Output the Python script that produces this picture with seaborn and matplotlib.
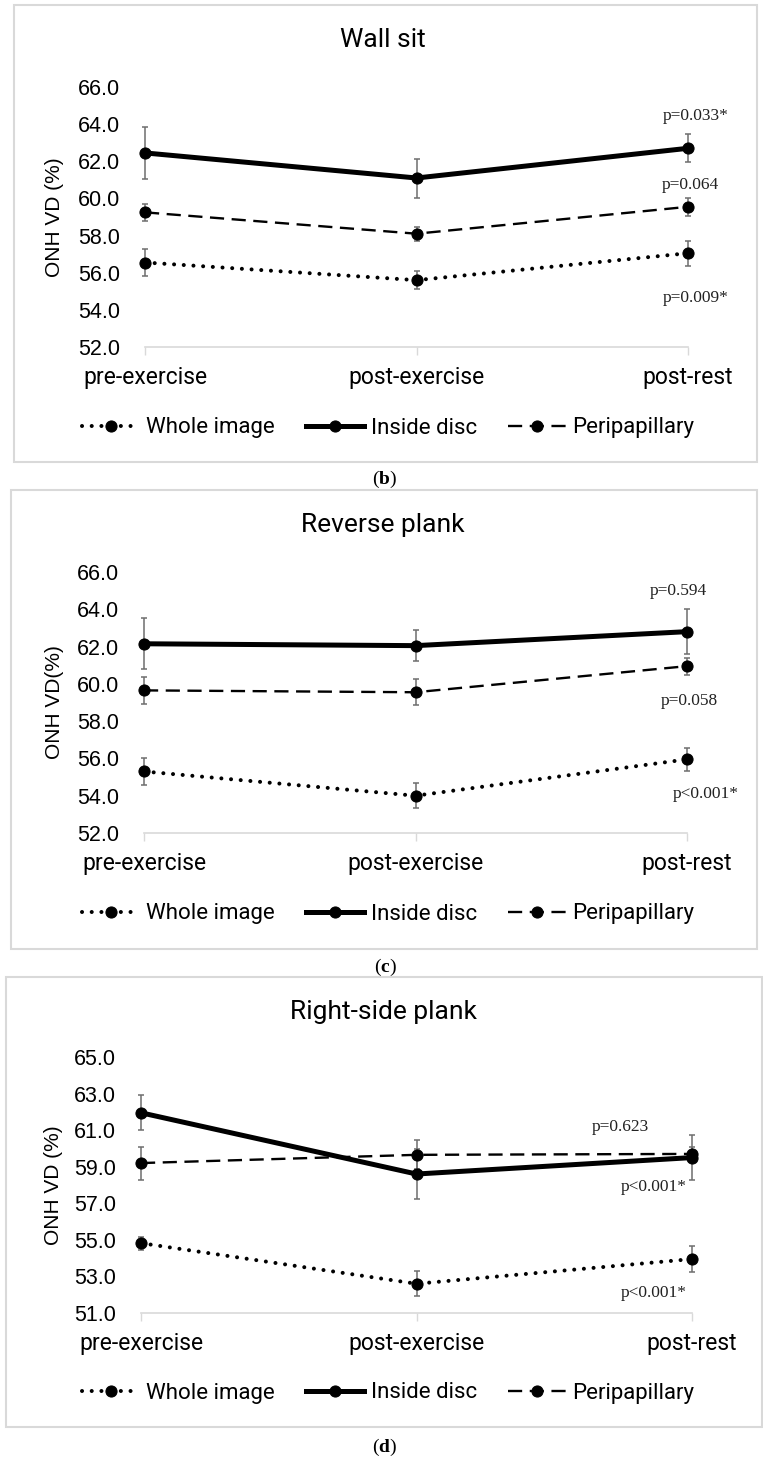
import pandas as pd
import matplotlib
matplotlib.use("Agg")
import matplotlib.pyplot as plt
import seaborn as sns
from matplotlib.patches import Rectangle

phases = ["pre-exercise", "post-exercise", "post-rest"]
series = ["Whole image", "Inside disc", "Peripapillary"]

# Wall sit
wall_whole = [56.55, 55.6, 57.05]
wall_whole_err = [0.75, 0.5, 0.68]
wall_disc = [62.45, 61.1, 62.7]
wall_disc_err = [1.4, 1.05, 0.75]
wall_peri = [59.25, 58.1, 59.55]
wall_peri_err = [0.45, 0.37, 0.5]
wall_p = ["p=0.033*", "p=0.064", "p=0.009*"]

# Reverse plank
rev_whole = [55.3, 54.0, 55.95]
rev_whole_err = [0.72, 0.68, 0.6]
rev_disc = [62.15, 62.05, 62.8]
rev_disc_err = [1.36, 0.85, 1.22]
rev_peri = [59.65, 59.55, 60.95]
rev_peri_err = [0.72, 0.7, 0.45]
rev_p = ["p=0.594", "p=0.058", "p<0.001*"]

# Right-side plank
side_whole = [54.82, 52.6, 53.95]
side_whole_err = [0.35, 0.68, 0.7]
side_disc = [61.95, 58.6, 59.5]
side_disc_err = [0.95, 1.37, 1.23]
side_peri = [59.2, 59.65, 59.7]
side_peri_err = [0.9, 0.8, 0.4]
side_p = ["p=0.623", "p<0.001*", "p<0.001*"]

W, H = 763, 1458
sans = "Roboto"

plt.rcParams["mathtext.fontset"] = "custom"
plt.rcParams["mathtext.rm"] = "Liberation Serif"
plt.rcParams["mathtext.bf"] = "Liberation Serif:bold"

fig = plt.figure(figsize=(W / 100, H / 100), dpi=100)

styles = {
    "Whole image": dict(linestyle=(0, (0.01, 2.4)), lw=2.9, dash_capstyle="round"),
    "Inside disc": dict(linestyle="-", lw=3.6),
    "Peripapillary": dict(linestyle=(0, (6.0, 3.2)), lw=1.7),
}

panels = [
    dict(title="Wall sit", ylabel="ONH VD (%)", cap="b",
         vals=[wall_whole, wall_disc, wall_peri],
         errs=[wall_whole_err, wall_disc_err, wall_peri_err],
         ylim=(52, 66), ptxt=wall_p,
         pxy=[(2.03, 64.45), (2.01, 60.7), (2.03, 54.65)],
         box=(14, 5, 757, 462), ax=(145, 688, 87, 347), title_y=40,
         leg_y=428, cap_y=479),
    dict(title="Reverse plank", ylabel="ONH VD(%)", cap="c",
         vals=[rev_whole, rev_disc, rev_peri],
         errs=[rev_whole_err, rev_disc_err, rev_peri_err],
         ylim=(52, 66), ptxt=rev_p,
         pxy=[(1.97, 65.0), (2.01, 59.1), (2.07, 54.1)],
         box=(11, 490, 757, 949), ax=(144, 687, 572, 833), title_y=525,
         leg_y=914, cap_y=967),
    dict(title="Right-side plank", ylabel="ONH VD (%)", cap="d",
         vals=[side_whole, side_disc, side_peri],
         errs=[side_whole_err, side_disc_err, side_peri_err],
         ylim=(51, 65), ptxt=side_p,
         pxy=[(1.74, 61.15), (1.86, 57.9), (1.86, 52.1)],
         box=(6, 977, 762, 1427), ax=(141, 692, 1057, 1313), title_y=1012,
         leg_y=1393, cap_y=1447),
]

for p in panels:
    x0, y0, x1, y1 = p["box"]
    fig.patches.append(Rectangle((x0 / W, 1 - y1 / H), (x1 - x0) / W, (y1 - y0) / H,
                                 transform=fig.transFigure, fill=False,
                                 edgecolor="#D9D9D9", lw=1.5))
    l, r, t, b = p["ax"]
    ax = fig.add_axes([l / W, 1 - b / H, (r - l) / W, (b - t) / H])

    rows = []
    for name, v, e in zip(series, p["vals"], p["errs"]):
        for i, ph in enumerate(phases):
            rows.append(dict(series=name, pos=i, phase=ph, value=v[i], err=e[i]))
    df = pd.DataFrame(rows)

    handles = []
    for name in series:
        d = df[df["series"] == name]
        ax.errorbar(d["pos"], d["value"], yerr=d["err"], fmt="none", ecolor="#6E6E6E",
                    elinewidth=1.1, capsize=2.5, capthick=1.1, clip_on=False, zorder=2)
        sns.lineplot(data=d, x="pos", y="value", ax=ax, color="black", marker="o",
                     markersize=8, markeredgecolor="black", errorbar=None,
                     clip_on=False, zorder=3, **styles[name])
        handles.append(ax.lines[-1])

    for txt, (px, py) in zip(p["ptxt"], p["pxy"]):
        ax.text(px, py, txt, ha="center", va="center", family="Liberation Serif",
                fontsize=12.5, color="#222222")

    ax.set_xlim(0, 2)
    ax.set_ylim(*p["ylim"])
    ticks = list(range(p["ylim"][0], p["ylim"][1] + 1, 2))
    ax.set_yticks(ticks)
    ax.set_yticklabels([f"{t:.1f}" for t in ticks], fontsize=15.5, family="Liberation Sans")
    ax.set_xticks(range(3))
    ax.set_xticklabels(phases, fontsize=16.5, family=sans)
    ax.tick_params(axis="y", length=0, pad=18)
    ax.tick_params(axis="x", length=6, width=1, color="#D9D9D9", pad=8)
    for s in ["left", "top", "right"]:
        ax.spines[s].set_visible(False)
    ax.spines["bottom"].set_color("#D9D9D9")
    ax.spines["bottom"].set_linewidth(1.2)
    ax.set_xlabel("")
    ax.set_ylabel(p["ylabel"], fontsize=15, family="Liberation Sans")
    ax.yaxis.label.set_verticalalignment("center")
    ax.yaxis.set_label_coords((54 - l) / (r - l), 0.5)
    ax.patch.set_visible(False)

    fig.text(383 / W, 1 - p["title_y"] / H, p["title"], ha="center", va="center",
             fontsize=19, family=sans)
    fig.legend(handles, series, loc="center", bbox_to_anchor=(388 / W, 1 - p["leg_y"] / H),
               ncol=3, frameon=False, prop=dict(size=16, family=sans),
               handlelength=2.6, handletextpad=0.3, columnspacing=1.4)
    fig.text(385 / W, 1 - p["cap_y"] / H, r"($\mathbf{" + p["cap"] + r"}$)",
             ha="center", va="center", fontsize=14, family="Liberation Serif")

fig.savefig("out.png", dpi=100)
